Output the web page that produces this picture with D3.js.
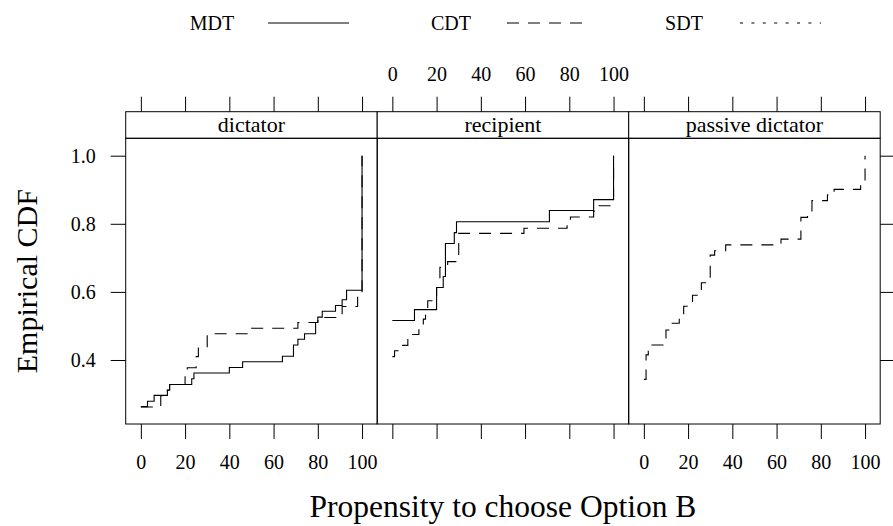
<!DOCTYPE html>
<html>
<head>
<meta charset="utf-8">
<script src="https://cdn.jsdelivr.net/npm/d3@7"></script>
<style>
  body { margin: 0; background: #fff; }
  svg { display: block; font-family: "Liberation Serif", serif; }
</style>
</head>
<body>
<div id="chart"></div>
<script>
// panels and ticks
var panelNames = ["dictator", "recipient", "passive dictator"];
var xTicks = [0, 20, 40, 60, 80, 100];
var yTicks = [0.4, 0.6, 0.8, 1.0];

// legend
var treatments = ["MDT", "CDT", "SDT"];

// ECDF step points: values and cumulative share
var dictatorMDT_x = [0, 3, 6, 12, 13, 23, 24, 40, 46, 64, 69, 71, 74, 79, 80, 82, 88, 91, 93, 100];
var dictatorMDT_F = [0.263, 0.279, 0.296, 0.312, 0.328, 0.345, 0.362, 0.378, 0.395, 0.411, 0.444, 0.461, 0.477, 0.51, 0.526, 0.543, 0.56, 0.577, 0.605, 1.0];

var dictatorCDT_x = [0, 9, 12, 13, 20, 21, 25, 26, 30, 50, 71, 80, 91, 98, 100];
var dictatorCDT_F = [0.262, 0.295, 0.311, 0.328, 0.361, 0.377, 0.41, 0.437, 0.477, 0.493, 0.51, 0.525, 0.557, 0.59, 1.0];

var recipientMDT_x = [0, 10, 20, 23, 24, 28, 29, 71, 91, 100];
var recipientMDT_F = [0.516, 0.548, 0.613, 0.645, 0.742, 0.774, 0.806, 0.839, 0.871, 1.0];

var recipientCDT_x = [0, 1, 4, 7, 12, 14, 15, 16, 20, 21.5, 25, 30, 59.5, 79, 80.5, 91, 93, 100];
var recipientCDT_F = [0.41, 0.427, 0.443, 0.475, 0.491, 0.52, 0.533, 0.574, 0.613, 0.672, 0.689, 0.772, 0.787, 0.804, 0.82, 0.837, 0.853, 1.0];

var passiveCDT_x = [0, 1, 2, 3, 10, 12, 16, 18, 22, 26, 30, 32, 37, 59, 62, 71, 74, 76, 83, 86, 98, 100];
var passiveCDT_F = [0.343, 0.415, 0.429, 0.444, 0.488, 0.508, 0.53, 0.558, 0.59, 0.627, 0.708, 0.721, 0.738, 0.743, 0.755, 0.819, 0.836, 0.868, 0.885, 0.901, 0.919, 1.0];

var series = [
    { panel: 0, treatment: "MDT", x: dictatorMDT_x, F: dictatorMDT_F },
    { panel: 0, treatment: "CDT", x: dictatorCDT_x, F: dictatorCDT_F },
    { panel: 1, treatment: "MDT", x: recipientMDT_x, F: recipientMDT_F },
    { panel: 1, treatment: "CDT", x: recipientCDT_x, F: recipientCDT_F },
    { panel: 2, treatment: "CDT", x: passiveCDT_x, F: passiveCDT_F }
];

var width = 893,
    height = 526;

var left = 125.7,
    panelW = 251.5,
    stripTop = 111.7,
    stripBottom = 138.3,
    bottom = 424;

var dashes = { MDT: null, CDT: "12,9", SDT: "3,8.4" };

var x = d3.scaleLinear().domain([-6.85, 106.85]).range([0, panelW]);
var y = d3.scaleLinear().domain([0.212, 1.0511]).range([bottom, stripBottom]);

var svg = d3.select("#chart").append("svg")
    .attr("width", width)
    .attr("height", height);

// legend along the top
var legendX = [212, 451, 684];
var legend = svg.selectAll(".legend").data(treatments).enter().append("g")
    .attr("class", "legend")
    .attr("transform", function(d, i) { return "translate(" + legendX[i] + ",0)"; });
legend.append("text")
    .attr("x", 0).attr("y", 30)
    .attr("text-anchor", "middle")
    .style("font-size", "20px")
    .text(function(d) { return d; });
legend.append("line")
    .attr("x1", 56).attr("x2", 137)
    .attr("y1", 23).attr("y2", 23)
    .attr("stroke", "#000")
    .attr("stroke-width", 1.1)
    .attr("stroke-dasharray", function(d) { return dashes[d]; });

var line = d3.line()
    .x(function(d) { return x(d[0]); })
    .y(function(d) { return y(d[1]); })
    .curve(d3.curveStepAfter);

panelNames.forEach(function(name, i) {
    var g = svg.append("g").attr("transform", "translate(" + (left + i * panelW) + ",0)");

    // strip
    g.append("rect")
        .attr("x", 0).attr("y", stripTop)
        .attr("width", panelW).attr("height", stripBottom - stripTop)
        .attr("fill", "#fff").attr("stroke", "#000");
    g.append("text")
        .attr("x", panelW / 2).attr("y", 131.5)
        .attr("text-anchor", "middle")
        .style("font-size", "22px")
        .text(name);

    // step curves
    series.filter(function(s) { return s.panel === i; }).forEach(function(s) {
        var pts = s.x.map(function(v, k) { return [v, s.F[k]]; });
        g.append("path")
            .datum(pts)
            .attr("d", line)
            .attr("fill", "none")
            .attr("stroke", "#000")
            .attr("stroke-width", 1.1)
            .attr("stroke-dasharray", dashes[s.treatment]);
    });

    // panel box
    g.append("rect")
        .attr("x", 0).attr("y", stripBottom)
        .attr("width", panelW).attr("height", bottom - stripBottom)
        .attr("fill", "none").attr("stroke", "#000");

    // bottom axis: labels on panels 1 and 3
    var xb = g.append("g").attr("transform", "translate(0," + bottom + ")")
        .call(d3.axisBottom(x).tickValues(xTicks).tickSize(15).tickPadding(16)
            .tickFormat(i === 1 ? "" : d3.format("d")));
    // top axis: labels on panel 2
    var xt = g.append("g").attr("transform", "translate(0," + stripTop + ")")
        .call(d3.axisTop(x).tickValues(xTicks).tickSize(15).tickPadding(16)
            .tickFormat(i === 1 ? d3.format("d") : ""));
    [xb, xt].forEach(function(a) {
        a.select(".domain").remove();
        a.selectAll("text").style("font-size", "20px").style("font-family", "Liberation Serif, serif").attr("fill", "#000");
    });
});

// y axes: labels left, ticks only on the right
var yl = svg.append("g").attr("transform", "translate(" + left + ",0)")
    .call(d3.axisLeft(y).tickValues(yTicks).tickSize(15).tickPadding(15).tickFormat(d3.format(".1f")));
var yr = svg.append("g").attr("transform", "translate(" + (left + 3 * panelW) + ",0)")
    .call(d3.axisRight(y).tickValues(yTicks).tickSize(15).tickFormat(""));
[yl, yr].forEach(function(a) {
    a.select(".domain").remove();
    a.selectAll("text").style("font-size", "20px").style("font-family", "Liberation Serif, serif").attr("fill", "#000");
});

// axis titles
svg.append("text")
    .attr("x", left + 1.5 * panelW).attr("y", 517)
    .attr("text-anchor", "middle")
    .style("font-size", "31.5px")
    .text("Propensity to choose Option B");

svg.append("text")
    .attr("transform", "translate(37," + ((stripBottom + bottom) / 2) + ") rotate(-90)")
    .attr("text-anchor", "middle")
    .style("font-size", "30px")
    .text("Empirical CDF");
</script>
</body>
</html>
